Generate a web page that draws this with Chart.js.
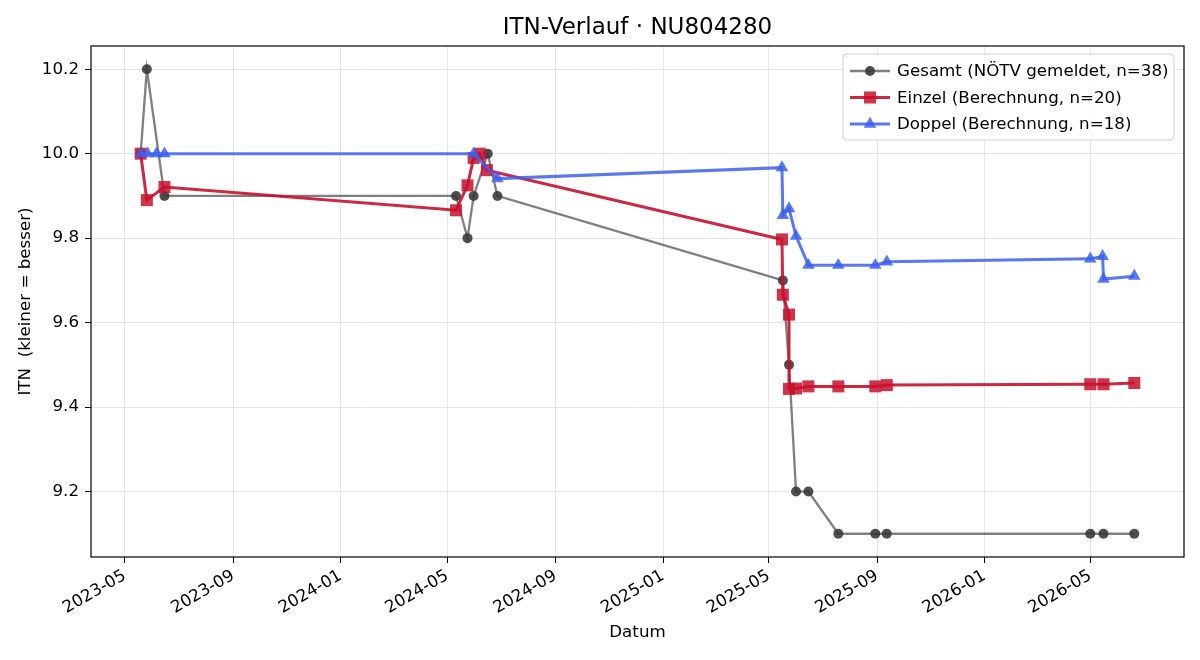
<!DOCTYPE html>
<html lang="de">
<head>
<meta charset="utf-8">
<title>ITN-Verlauf</title>
<script src="https://cdn.jsdelivr.net/npm/chart.js@4.4.1/dist/chart.umd.min.js"></script>
<style>
  html, body { margin: 0; padding: 0; background: #fff; }
  #wrap { width: 1200px; height: 660px; }
</style>
</head>
<body>
<div id="wrap"><canvas id="itnChart" width="1200" height="660"></canvas></div>
<script>
// Daten
const gesamtDaten = ["2023-05-19","2023-05-26","2023-06-15","2024-05-11","2024-05-24","2024-05-31","2024-06-16","2024-06-27",
  "2025-05-17","2025-05-24","2025-06-01","2025-06-15","2025-07-19","2025-08-30","2025-09-12","2026-05-01","2026-05-16","2026-06-20"];
const gesamtWerte = [10.0, 10.2, 9.9, 9.9, 9.8, 9.9, 10.0, 9.9, 9.7, 9.5, 9.2, 9.2, 9.1, 9.1, 9.1, 9.1, 9.1, 9.1];

const einzelDaten = ["2023-05-19","2023-05-26","2023-06-15","2024-05-11","2024-05-24","2024-05-31","2024-06-07","2024-06-15",
  "2025-05-16","2025-05-17","2025-05-24","2025-05-24","2025-06-01","2025-06-15","2025-07-19","2025-08-30","2025-09-12",
  "2026-05-01","2026-05-16","2026-06-20"];
const einzelWerte = [10.0, 9.89, 9.921, 9.866, 9.925, 9.99, 10.0, 9.961, 9.797, 9.666, 9.619, 9.443, 9.444, 9.449, 9.449,
  9.449, 9.452, 9.454, 9.454, 9.457];

const doppelDaten = ["2023-05-19","2023-05-27","2023-06-06","2023-06-15","2024-05-31","2024-06-27","2025-05-16","2025-05-17",
  "2025-05-24","2025-06-01","2025-06-15","2025-07-19","2025-08-30","2025-09-12","2026-05-01","2026-05-15","2026-05-16","2026-06-20"];
const doppelWerte = [10.0, 10.0, 10.0, 10.0, 10.0, 9.941, 9.967, 9.854, 9.870, 9.805, 9.736, 9.736, 9.736, 9.744, 9.751,
  9.757, 9.703, 9.710];

const xTickLabels = ["2023-05","2023-09","2024-01","2024-05","2024-09","2025-01","2025-05","2025-09","2026-01","2026-05"];
const yTicks = [9.2, 9.4, 9.6, 9.8, 10.0, 10.2];

const serien = [
  { label: "Gesamt (NÖTV gemeldet, n=38)", daten: gesamtDaten, werte: gesamtWerte },
  { label: "Einzel (Berechnung, n=20)", daten: einzelDaten, werte: einzelWerte },
  { label: "Doppel (Berechnung, n=18)", daten: doppelDaten, werte: doppelWerte },
];

const FONT = "'DejaVu Sans', sans-serif";
const toMs = (s) => Date.parse(s + (s.length === 7 ? "-01" : "") + "T00:00:00Z");
const punkte = (d, w) => d.map((s, i) => ({ x: toMs(s), y: w[i] }));

// Achsengrenzen wie matplotlib (5 % Rand)
const alleX = serien.flatMap((s) => s.daten.map(toMs));
const alleY = serien.flatMap((s) => s.werte);
const xMin = Math.min(...alleX), xMax = Math.max(...alleX);
const yMin = Math.min(...alleY), yMax = Math.max(...alleY);
const xPad = (xMax - xMin) * 0.05, yPad = (yMax - yMin) * 0.05;

const stile = [
  { line: "rgba(68,68,68,0.68)", point: "rgba(55,55,55,0.88)", shape: "circle", r: 5, lw: 2.3 },
  { line: "rgba(200,16,46,0.9)", point: "rgba(200,16,46,0.85)", shape: "rect", r: 8.5, lw: 3 },
  { line: "rgba(60,96,240,0.85)", point: "rgba(60,96,240,0.85)", shape: "triangle", r: 7.3, lw: 3 },
];

function zeichneMarker(ctx, shape, x, y, r, color) {
  ctx.save();
  ctx.fillStyle = color;
  ctx.beginPath();
  if (shape === "circle") {
    ctx.arc(x, y, r, 0, Math.PI * 2);
  } else if (shape === "rect") {
    const s = r * Math.SQRT1_2;
    ctx.rect(x - s, y - s, 2 * s, 2 * s);
  } else {
    ctx.moveTo(x, y - r);
    ctx.lineTo(x + r * 0.866, y + r * 0.5);
    ctx.lineTo(x - r * 0.866, y + r * 0.5);
    ctx.closePath();
  }
  ctx.fill();
  ctx.restore();
}

const rahmenPlugin = {
  id: "rahmen",
  afterDraw(chart) {
    const { ctx, chartArea: a } = chart;
    ctx.save();
    // Titel
    ctx.fillStyle = "#000";
    ctx.font = "23px " + FONT;
    ctx.textAlign = "center";
    ctx.textBaseline = "middle";
    ctx.fillText("ITN-Verlauf · NU804280", (a.left + a.right) / 2, 28);
    // Rahmen
    ctx.strokeStyle = "#000";
    ctx.lineWidth = 1.2;
    ctx.strokeRect(a.left, a.top, a.right - a.left, a.bottom - a.top);
    // Legende
    const bx = 843, by = 54, bw = 331, bh = 86;
    ctx.beginPath();
    ctx.roundRect(bx, by, bw, bh, 4);
    ctx.fillStyle = "rgba(255,255,255,0.85)";
    ctx.fill();
    ctx.strokeStyle = "#d0d0d0";
    ctx.lineWidth = 1;
    ctx.stroke();
    ctx.font = "16.7px " + FONT;
    ctx.textAlign = "left";
    serien.forEach((s, i) => {
      const y = 71 + i * 26.5;
      const st = stile[i];
      ctx.strokeStyle = st.line;
      ctx.lineWidth = st.lw;
      ctx.beginPath();
      ctx.moveTo(850, y);
      ctx.lineTo(890, y);
      ctx.stroke();
      zeichneMarker(ctx, st.shape, 870, y, st.r, st.point);
      ctx.fillStyle = "#000";
      ctx.fillText(s.label, 897, y + 1);
    });
    ctx.restore();
  },
};

new Chart(document.getElementById("itnChart"), {
  type: "line",
  data: {
    datasets: serien.map((s, i) => ({
      label: s.label,
      data: punkte(s.daten, s.werte),
      borderColor: stile[i].line,
      borderWidth: stile[i].lw,
      backgroundColor: stile[i].point,
      pointBackgroundColor: stile[i].point,
      pointBorderColor: stile[i].point,
      pointBorderWidth: 0,
      pointStyle: stile[i].shape,
      pointRadius: stile[i].r,
      pointHoverRadius: stile[i].r,
      tension: 0,
      fill: false,
      order: 3 - i,
    })),
  },
  options: {
    responsive: false,
    animation: false,
    layout: { padding: { top: 46, right: 16, left: 0, bottom: 0 } },
    plugins: {
      legend: { display: false },
      title: { display: false },
      tooltip: { enabled: false },
    },
    scales: {
      x: {
        type: "linear",
        min: xMin - xPad,
        max: xMax + xPad,
        afterFit: (scale) => { scale.height = 103; },
        afterBuildTicks: (scale) => { scale.ticks = xTickLabels.map((l) => ({ value: toMs(l) })); },
        grid: { color: "#e6e6e6", lineWidth: 1, tickColor: "#000", tickLength: 6, drawTicks: true },
        border: { display: false },
        ticks: {
          color: "#000",
          font: { family: FONT, size: 16.7 },
          minRotation: 30,
          maxRotation: 30,
          padding: 3,
          callback: (v) => new Date(v).toISOString().slice(0, 7),
        },
        title: { display: true, text: "Datum", color: "#000", font: { family: FONT, size: 16.7 }, padding: { top: 4, bottom: 17 } },
      },
      y: {
        type: "linear",
        min: yMin - yPad,
        max: yMax + yPad,
        afterFit: (scale) => { scale.width = 91; },
        afterBuildTicks: (scale) => { scale.ticks = yTicks.map((v) => ({ value: v })); },
        grid: { color: "#e6e6e6", lineWidth: 1, tickColor: "#000", tickLength: 6, drawTicks: true },
        border: { display: false },
        ticks: {
          color: "#000",
          font: { family: FONT, size: 16.7 },
          padding: 6,
          callback: (v) => v.toFixed(1),
        },
        title: { display: true, text: "ITN  (kleiner = besser)", color: "#000", font: { family: FONT, size: 16.7 }, padding: { top: 16, bottom: 0 } },
      },
    },
  },
  plugins: [rahmenPlugin],
});
</script>
</body>
</html>
